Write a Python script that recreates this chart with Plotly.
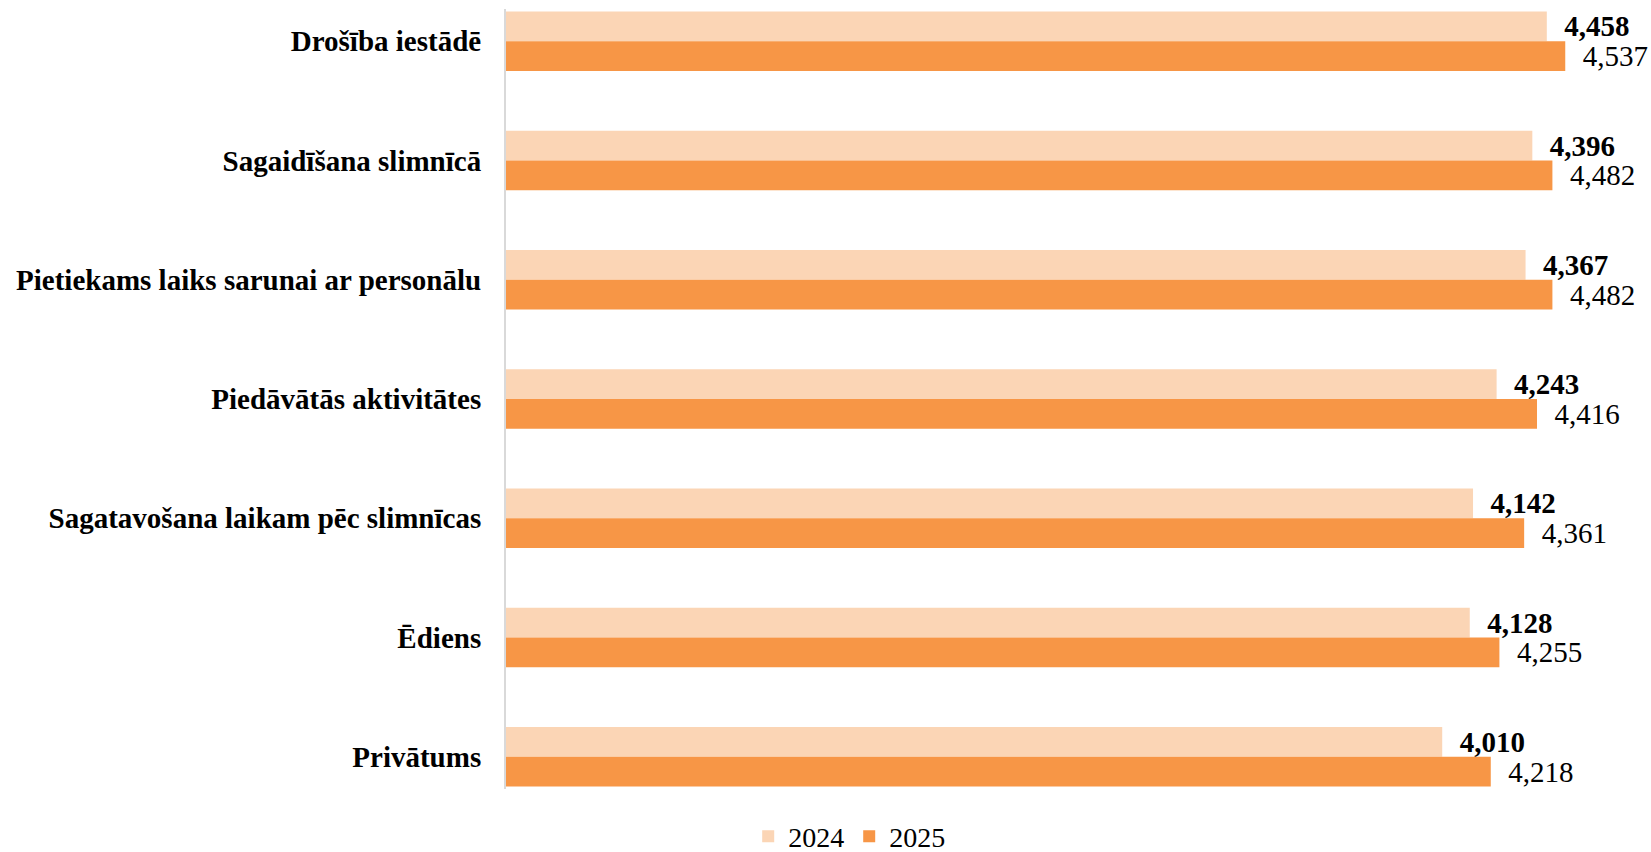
import plotly.graph_objects as go

categories = [
    "Drošība iestādē",
    "Sagaidīšana slimnīcā",
    "Pietiekams laiks sarunai ar personālu",
    "Piedāvātās aktivitātes",
    "Sagatavošana laikam pēc slimnīcas",
    "Ēdiens",
    "Privātums",
]
values_2024 = [4.458, 4.396, 4.367, 4.243, 4.142, 4.128, 4.010]
values_2025 = [4.537, 4.482, 4.482, 4.416, 4.361, 4.255, 4.218]

SERIF = "Liberation Serif"

fig = go.Figure()
fig.add_trace(go.Bar(
    name="2024", y=categories, x=values_2024, orientation="h",
    marker=dict(color="#FBD5B5", line=dict(width=0)),
    texttemplate="\u2002%{x:.3f}", textposition="outside",
    textfont=dict(family=SERIF, size=29, color="black", weight="bold"),
    constraintext="none", cliponaxis=False, hoverinfo="skip",
))
fig.add_trace(go.Bar(
    name="2025", y=categories, x=values_2025, orientation="h",
    marker=dict(color="#F79646", line=dict(width=0)),
    texttemplate="\u2002%{x:.3f}", textposition="outside",
    textfont=dict(family=SERIF, size=29, color="black"),
    constraintext="none", cliponaxis=False, hoverinfo="skip",
))

fig.update_layout(
    width=1651, height=852,
    margin=dict(l=506, r=1, t=9, b=63, autoexpand=False),
    barmode="group", bargap=0.5, bargroupgap=0,
    separators=", ",
    plot_bgcolor="white", paper_bgcolor="white",
    showlegend=True,
    legend=dict(orientation="h", x=0.30, xanchor="center",
                yref="container", y=0.018, yanchor="middle",
                font=dict(family=SERIF, size=28, color="black"),
                traceorder="normal"),
    xaxis=dict(range=[0, 4.9], showgrid=False, showticklabels=False, zeroline=False,
               showline=False, ticks=""),
    yaxis=dict(type="category", range=[6.27, -0.27], showgrid=False,
               showline=True, linecolor="#D9D9D9", linewidth=2,
               ticks="", ticklabelstandoff=17,
               tickfont=dict(family=SERIF, size=29, color="black", weight="bold")),
)

fig.write_html(
    "out.html",
    config={"displayModeBar": False},
    post_script="document.body.style.margin='0';document.body.style.overflow='hidden';",
)
